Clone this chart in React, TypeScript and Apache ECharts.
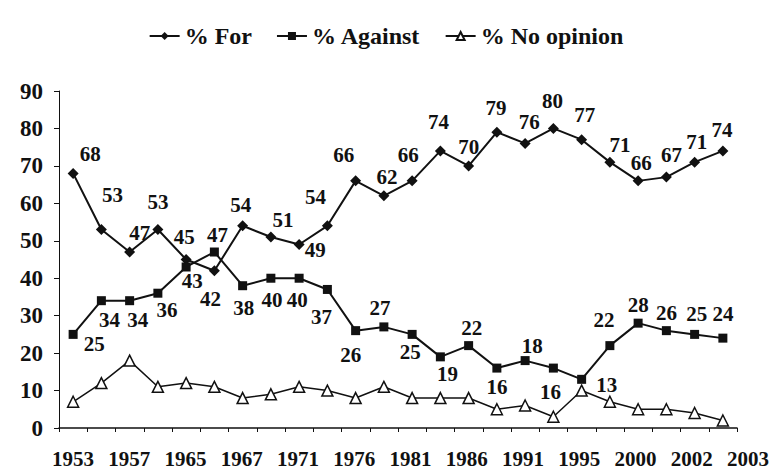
import React, { useEffect, useRef } from "react";
import * as echarts from "echarts";

// Tick labels shown under every other poll
const tickLabels = ["1953", "1957", "1965", "1967", "1971", "1976", "1981", "1986", "1991", "1995", "2000", "2002", "2003"];

// Series values (one per poll)
const forValues = [68, 53, 47, 53, 45, 42, 54, 51, 49, 54, 66, 62, 66, 74, 70, 79, 76, 80, 77, 71, 66, 67, 71, 74];
const againstValues = [25, 34, 34, 36, 43, 47, 38, 40, 40, 37, 26, 27, 25, 19, 22, 16, 18, 16, 13, 22, 28, 26, 25, 24];
const noOpinionValues = [7, 12, 18, 11, 12, 11, 8, 9, 11, 10, 8, 11, 8, 8, 8, 5, 6, 3, 10, 7, 5, 5, 4, 2];

// Label placement (pixel offsets from the marker centre)
const forLabelOffsets = [
  [17, -19], [11, -35], [10, -19], [0, -28], [-2, -23], [-4, 28], [-2, -21], [12, -17],
  [16, 5], [-12, -29], [-12, -26], [3, -19], [-4, -26], [-2, -29], [0, -19], [-1, -24],
  [4, -21], [-1, -27], [3, -25], [10, -17], [3, -18], [5, -22], [2, -20], [-1, -21],
];
const againstLabelOffsets = [
  [21, 10], [8, 19], [8, 19], [9, 17], [6, 14], [3, -17], [1, 22], [1, 22],
  [-2, 22], [-6, 28], [-5, 24], [-4, -19], [-2, 18], [7, 17], [3, -18], [0, 19],
  [7, -15], [-3, 24], [25, 6], [-6, -26], [0, -18], [0, -18], [2, -20], [0, -24],
];

const font = "'Liberation Serif', 'Times New Roman', serif";
const ink = "#111";

export default function App() {
  const ref = useRef<HTMLDivElement>(null);

  useEffect(() => {
    if (!ref.current) return;
    const chart = echarts.init(ref.current, null, { renderer: "svg" });
    const cats = forValues.map((_, i) => String(i));
    const labelCats = [...cats, String(cats.length)];
    const catWidth = 678 / cats.length;

    const labelStyle = {
      show: true,
      position: "inside",
      color: ink,
      fontFamily: font,
      fontWeight: "bold",
      fontSize: 21,
    };

    const withLabels = (vals: number[], offs: number[][]) =>
      vals.map((v, i) => ({ value: v, label: { offset: offs[i] } }));

    chart.setOption({
      animation: false,
      backgroundColor: "#fff",
      legend: {
        top: 19,
        left: "center",
        itemWidth: 30,
        itemHeight: 10,
        itemGap: 24,
        textStyle: { fontFamily: font, fontWeight: "bold", fontSize: 24, color: ink },
        data: ["% For", "% Against", "% No opinion"],
      },
      grid: [
        { left: 59, right: 35, top: 91, bottom: 41 },
        { left: 59, width: catWidth * labelCats.length, top: 91, bottom: 41 },
      ],
      xAxis: [
        {
          type: "category",
          gridIndex: 0,
          data: cats,
          boundaryGap: true,
          axisLine: { lineStyle: { color: ink, width: 1.5 } },
          axisTick: { show: true, length: 4, lineStyle: { color: ink } },
          axisLabel: { show: false },
        },
        {
          type: "category",
          gridIndex: 1,
          data: labelCats,
          boundaryGap: true,
          axisLine: { show: false },
          axisTick: { show: false },
          axisLabel: {
            interval: 0,
            margin: 23,
            color: ink,
            fontFamily: font,
            fontWeight: "bold",
            fontSize: 21,
            formatter: (_v: string, i: number) => (i % 2 === 0 ? tickLabels[i / 2] : ""),
          },
        },
      ],
      yAxis: [
        {
          type: "value",
          gridIndex: 0,
          min: 0,
          max: 90,
          interval: 10,
          splitLine: { show: false },
          axisLine: { show: true, lineStyle: { color: ink, width: 1 } },
          axisTick: { show: true, length: 5, lineStyle: { color: ink } },
          axisLabel: {
            margin: 16,
            color: ink,
            fontFamily: font,
            fontWeight: "bold",
            fontSize: 23,
          },
        },
        { type: "value", gridIndex: 1, min: 0, max: 90, show: false },
      ],
      series: [
        {
          name: "% For",
          type: "line",
          xAxisIndex: 0,
          yAxisIndex: 0,
          data: withLabels(forValues, forLabelOffsets),
          symbol: "diamond",
          symbolSize: 11,
          itemStyle: { color: ink },
          lineStyle: { color: ink, width: 2 },
          label: labelStyle,
        },
        {
          name: "% Against",
          type: "line",
          xAxisIndex: 0,
          yAxisIndex: 0,
          data: withLabels(againstValues, againstLabelOffsets),
          symbol: "rect",
          symbolSize: 9,
          itemStyle: { color: ink },
          lineStyle: { color: ink, width: 2 },
          label: labelStyle,
        },
        {
          name: "% No opinion",
          type: "line",
          xAxisIndex: 0,
          yAxisIndex: 0,
          data: noOpinionValues,
          symbol: "triangle",
          symbolSize: 11,
          showAllSymbol: true,
          itemStyle: { color: "#fff", borderColor: ink, borderWidth: 1.5 },
          lineStyle: { color: ink, width: 1.5 },
        },
      ],
    });
    return () => chart.dispose();
  }, []);

  return (
    <div
      ref={ref}
      style={{ position: "fixed", left: 0, top: 0, width: 772, height: 469, background: "#fff" }}
    />
  );
}
